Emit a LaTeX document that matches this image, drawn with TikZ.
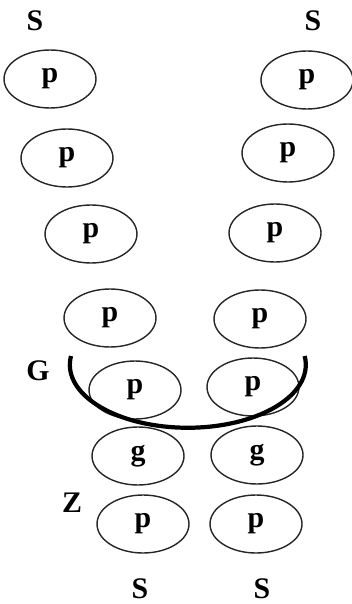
\documentclass[tikz,border=0pt]{standalone}
\usepackage{fontspec}
\setmainfont{Liberation Serif}
\usetikzlibrary{shapes.geometric}
\tikzset{>=stealth}
\tikzset{cell/.style={draw=black!85, ellipse, line width=0.8pt, minimum width=1.84cm, minimum height=1.16cm, inner sep=0pt, font=\fontsize{17}{20}\selectfont\bfseries},
    lbl/.style={font=\fontsize{17}{20}\selectfont\bfseries}}

\begin{document}
\begin{tikzpicture}[x=0.02cm, y=-0.02cm]
    \useasboundingbox (0,0) rectangle (351,604);
    \node[lbl] (S1) at (35,21) {S};
    \node[lbl] (S2) at (313,21) {S};
    \node[lbl] (S3) at (140,589) {S};
    \node[lbl] (S4) at (262,589) {S};
    \node[lbl] (G) at (38,371) {G};
    \node[lbl] (Z) at (72,503) {Z};
    % left chain
    \node[cell] (L1) at (50,79) {p};
    \node[cell] (L2) at (67,158) {p};
    \node[cell] (L3) at (91,234) {p};
    \node[cell] (L4) at (110,318) {p};
    \node[cell] (L5) at (135,390) {p};
    \node[cell] (L6) at (138,456) {g};
    \node[cell] (L7) at (143,524) {p};
    % right chain
    \node[cell] (R1) at (307,80) {p};
    \node[cell] (R2) at (288,153) {p};
    \node[cell] (R3) at (275,233) {p};
    \node[cell] (R4) at (260,319) {p};
    \node[cell] (R5) at (253,387) {p};
    \node[cell] (R6) at (257,455) {g};
    \node[cell] (R7) at (256,524) {p};
    % G arc
    \coordinate (A) at (71,356);
    \draw[line width=2.4pt] (A) arc [start angle=172, end angle=368, x radius=2.36cm, y radius=1.26cm];
\end{tikzpicture}
\end{document}
